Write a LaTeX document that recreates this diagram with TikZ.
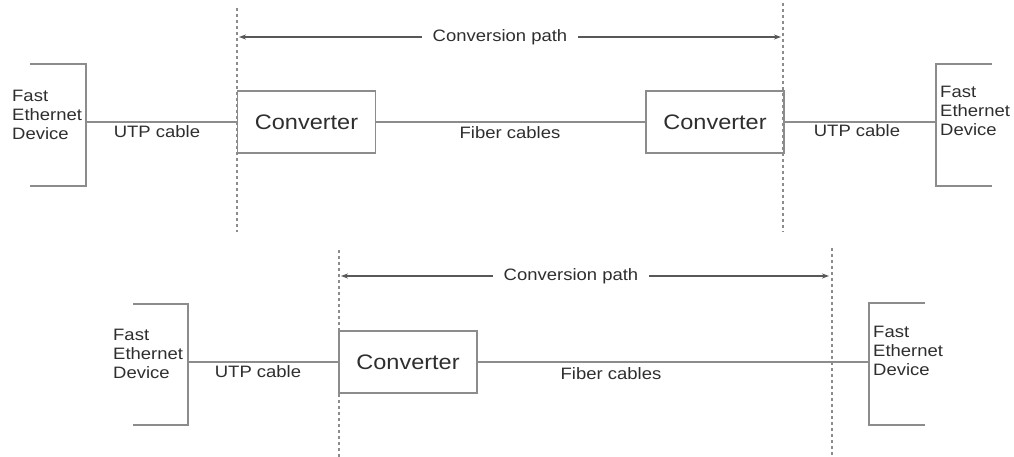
\documentclass[tikz,border=0pt]{standalone}
\usepackage{fontspec}
\setmainfont{Liberation Sans}[FakeStretch=1.12]
\usetikzlibrary{arrows.meta}
\definecolor{linec}{HTML}{8C8C8C}
\definecolor{textc}{HTML}{2E2E2E}
\tikzset{
  ln/.style={draw=linec, line width=1.3pt},
  dash line/.style={draw=linec, line width=1.1pt, dash pattern=on 3pt off 3pt},
  arr/.style={draw=textc!80, line width=1.1pt, -{Stealth[length=7pt,width=5pt]}},
  conv/.style={draw=linec, line width=1.3pt, minimum width=138pt, minimum height=62pt, inner sep=0pt, text=textc, font=\fontsize{21}{24}\selectfont},
  lbl/.style={inner sep=0pt, text=textc, font=\fontsize{16.5}{19}\selectfont},
  dev/.style={inner sep=0pt, text=textc, align=left, anchor=west, font=\fontsize{16.5}{18.8}\selectfont},
  cpath/.style={inner xsep=11pt, inner ysep=0pt, text=textc, font=\fontsize{16.5}{19}\selectfont}
}
\begin{document}
\begin{tikzpicture}[x=1pt,y=-1pt]
\useasboundingbox (0,0) rectangle (1014,457);
% ---------------- top diagram ----------------
\coordinate (a1t) at (30,64);  \coordinate (a1u) at (86,64);
\coordinate (a1m) at (86,122); \coordinate (a1d) at (86,186); \coordinate (a1b) at (30,186);
\draw[ln] (a1t) -- (a1u) -- (a1d) -- (a1b);
\node[dev] (d1) at (12,115) {Fast\\Ethernet\\Device};

\coordinate (a2t) at (992,64); \coordinate (a2u) at (936,64);
\coordinate (a2m) at (936,122); \coordinate (a2d) at (936,186); \coordinate (a2b) at (992,186);
\draw[ln] (a2t) -- (a2u) -- (a2d) -- (a2b);
\node[dev] (d2) at (940,111) {Fast\\Ethernet\\Device};

\coordinate (v1t) at (237,8);  \coordinate (v1b) at (237,232);
\coordinate (v2t) at (783,3);  \coordinate (v2b) at (783,232);
\draw[dash line] (v1t) -- (v1b);
\draw[dash line] (v2t) -- (v2b);

\node[conv] (c1) at (306.5,122) {Converter};
\node[conv] (c2) at (715,122) {Converter};
\draw[ln] (a1m) -- (c1.west);
\draw[ln] (c1.east) -- (c2.west);
\draw[ln] (c2.east) -- (a2m);

\node[lbl] (u1) at (157,132) {UTP cable};
\node[lbl] (f1) at (510,133) {Fiber cables};
\node[lbl] (u2) at (857,131) {UTP cable};

\node[cpath] (p1) at (500,37) {Conversion path};
\coordinate (p1l) at (239,37); \coordinate (p1r) at (781,37);
\draw[arr] (p1.west) -- (p1l);
\draw[arr] (p1.east) -- (p1r);

% ---------------- bottom diagram ----------------
\coordinate (a3t) at (133,304); \coordinate (a3u) at (188,304);
\coordinate (a3m) at (188,362); \coordinate (a3d) at (188,425); \coordinate (a3b) at (133,425);
\draw[ln] (a3t) -- (a3u) -- (a3d) -- (a3b);
\node[dev] (d3) at (113,354) {Fast\\Ethernet\\Device};

\coordinate (a4t) at (925,303); \coordinate (a4u) at (869,303);
\coordinate (a4m) at (869,362); \coordinate (a4d) at (869,425); \coordinate (a4b) at (925,425);
\draw[ln] (a4t) -- (a4u) -- (a4d) -- (a4b);
\node[dev] (d4) at (873,351) {Fast\\Ethernet\\Device};

\coordinate (v3t) at (339,250); \coordinate (v3b) at (339,457);
\coordinate (v4t) at (832,248); \coordinate (v4b) at (832,457);
\draw[dash line] (v3t) -- (v3b);
\draw[dash line] (v4t) -- (v4b);

\node[conv] (c3) at (408,362) {Converter};
\draw[ln] (a3m) -- (c3.west);
\draw[ln] (c3.east) -- (a4m);

\node[lbl] (u3) at (258,372) {UTP cable};
\node[lbl] (f2) at (611,374) {Fiber cables};

\node[cpath] (p2) at (571,276) {Conversion path};
\coordinate (p2l) at (341,276); \coordinate (p2r) at (829,276);
\draw[arr] (p2.west) -- (p2l);
\draw[arr] (p2.east) -- (p2r);
\end{tikzpicture}
\end{document}
